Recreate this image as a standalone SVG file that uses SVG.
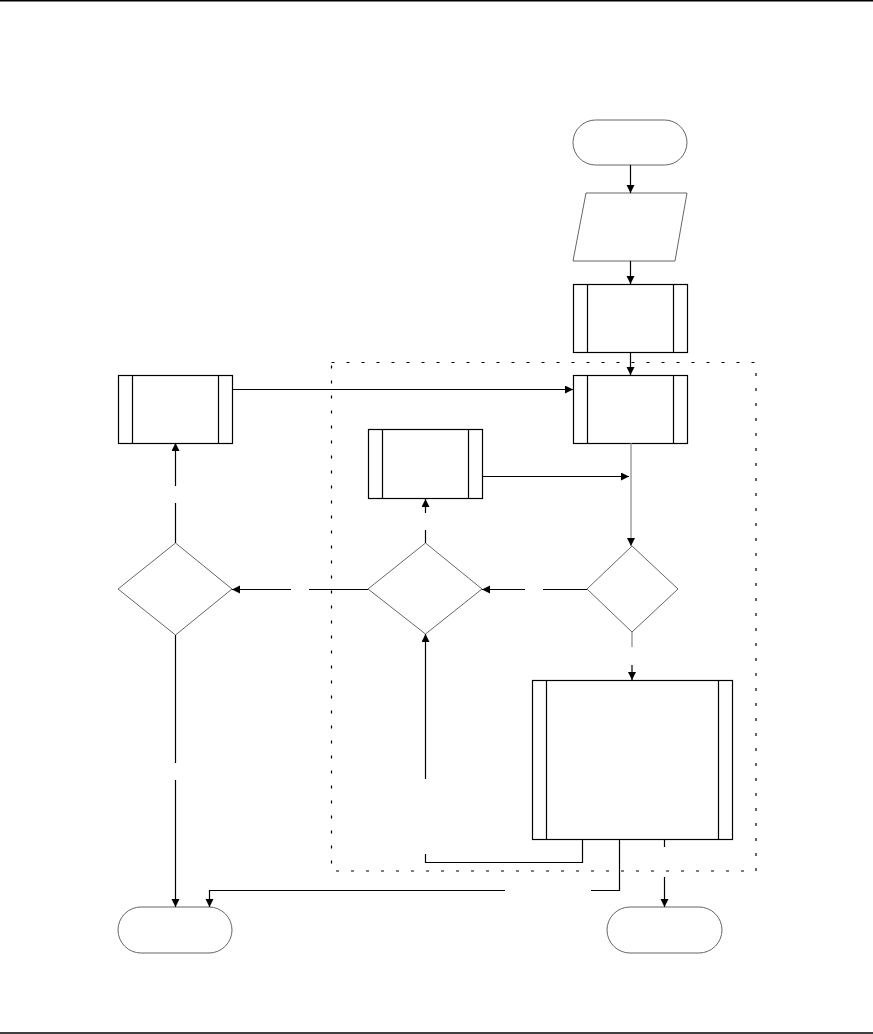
<svg xmlns="http://www.w3.org/2000/svg" width="873" height="1034" viewBox="0 0 873 1034">
<style>
.proc{fill:#fff;stroke:#000;stroke-width:1.2}
.bar{stroke:#000;stroke-width:1.2;fill:none}
.soft{fill:#fff;stroke:#666;stroke-width:1}
.c{fill:none;stroke:#000;stroke-width:1.2}
.cg{fill:none;stroke:#888;stroke-width:1.2}
.frame{fill:none;stroke:#000;stroke-width:1.2;stroke-dasharray:3 12}
</style>
<defs>
<marker id="ah" markerUnits="userSpaceOnUse" markerWidth="9" markerHeight="9" refX="8" refY="4" orient="auto">
<path d="M0,0 L8,4 L0,8 z" fill="#000"/>
</marker>
</defs>
<rect x="0" y="0" width="873" height="1034" fill="#fff"/>
<line x1="0" y1="0.8" x2="873" y2="0.8" stroke="#000" stroke-width="1.5"/>
<line x1="0" y1="1033" x2="873" y2="1033" stroke="#000" stroke-width="1.5"/>

<rect id="group-frame" class="frame" x="331.5" y="362.5" width="424.5" height="508.5"/>

<g id="start"><rect class="soft" x="573" y="120" width="114" height="45" rx="22.5" ry="22.5"/></g>
<g id="input"><polygon class="soft" points="586,193 687,193 675,261 573,261"/></g>
<g id="proc1"><rect class="proc" x="573.5" y="284.5" width="114" height="68"/><path class="bar" d="M587.5,284.5 V352.5 M673.5,284.5 V352.5"/></g>
<g id="proc2"><rect class="proc" x="573.5" y="375.5" width="114" height="68"/><path class="bar" d="M587.5,375.5 V443.5 M673.5,375.5 V443.5"/></g>
<g id="procLeft"><rect class="proc" x="118.5" y="375.5" width="114" height="68"/><path class="bar" d="M132.5,375.5 V443.5 M218.5,375.5 V443.5"/></g>
<g id="procMid"><rect class="proc" x="368.5" y="429.5" width="114" height="69"/><path class="bar" d="M382.5,429.5 V498.5 M468.5,429.5 V498.5"/></g>
<g id="procBig"><rect class="proc" x="532.5" y="680.5" width="200" height="159"/><path class="bar" d="M546.5,680.5 V839.5 M718.5,680.5 V839.5"/></g>
<g id="decRight"><polygon class="soft" points="632,546 678,589 632,632 587,589"/></g>
<g id="decMid"><polygon class="soft" points="425.5,543 482,589 425.5,634 368,589"/></g>
<g id="decLeft"><polygon class="soft" points="175.5,543 232,589 175.5,635 118,589"/></g>
<g id="endLeft"><rect class="soft" x="118" y="907" width="114" height="46" rx="23" ry="23"/></g>
<g id="endRight"><rect class="soft" x="607" y="907" width="115" height="46" rx="23" ry="23"/></g>

<g id="connectors">
<path class="c" d="M630.5,165 V193" marker-end="url(#ah)"/>
<path class="c" d="M630.5,261 V284" marker-end="url(#ah)"/>
<path class="c" d="M630.5,352 V375" marker-end="url(#ah)"/>
<path class="c" d="M232,389.5 H573" marker-end="url(#ah)"/>
<path class="c" d="M483,476.5 H629" marker-end="url(#ah)"/>
<path class="cg" d="M631,443 V546" marker-end="url(#ah)"/>
<path class="c" d="M587,589.5 H543"/>
<path class="c" d="M525,589.5 H482" marker-end="url(#ah)"/>
<path class="c" d="M368,589.5 H309"/>
<path class="c" d="M291,589.5 H232" marker-end="url(#ah)"/>
<path class="c" d="M425.5,543 V530"/>
<path class="c" d="M425.5,513 V499" marker-end="url(#ah)"/>
<path class="c" d="M175.5,543 V503"/>
<path class="c" d="M175.5,486 V443" marker-end="url(#ah)"/>
<path class="cg" d="M632,632 V647"/>
<path class="c" d="M632,665 V680" marker-end="url(#ah)"/>
<path class="c" d="M175.5,635 V763"/>
<path class="c" d="M175.5,780 V907" marker-end="url(#ah)"/>
<path class="c" d="M582.5,839 V862.5 H425.5 V854"/>
<path class="c" d="M425.5,779 V634" marker-end="url(#ah)"/>
<path class="c" d="M619.5,839 V890.5 H591"/>
<path class="c" d="M505,890.5 H209.5 V907" marker-end="url(#ah)"/>
<path class="c" d="M664.5,839 V847"/>
<path class="c" d="M664.5,877 V907" marker-end="url(#ah)"/>
</g>
</svg>
